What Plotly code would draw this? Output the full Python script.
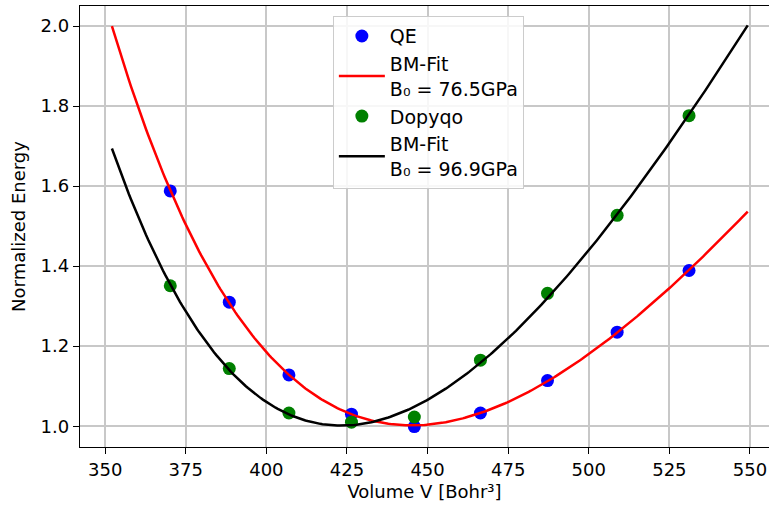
import numpy as np
import plotly.graph_objects as go

# Volumes (Bohr^3) and normalized energies for the two codes
volumes = [370.2, 388.5, 407.0, 426.4, 445.9, 466.4, 487.2, 508.8, 531.1]
energy_qe = [1.588, 1.310, 1.128, 1.030, 0.999, 1.033, 1.114, 1.235, 1.389]
energy_dopyqo = [1.351, 1.144, 1.033, 1.010, 1.023, 1.165, 1.332, 1.527, 1.776]

fit_labels = ["BM-Fit<br>B₀ = 76.5GPa", "BM-Fit<br>B₀ = 96.9GPa"]
fit_vmin, fit_vmax = 352.1, 549.3


def birch_murnaghan_fit(v, e, v_eval):
    """Third-order Birch-Murnaghan fit: E is cubic in V^(-2/3)."""
    x = np.asarray(v, dtype=float) ** (-2.0 / 3.0)
    coeffs = np.polyfit(x, np.asarray(e, dtype=float), 3)
    return np.polyval(coeffs, np.asarray(v_eval) ** (-2.0 / 3.0))


v_fit = np.linspace(fit_vmin, fit_vmax, 300)
fit_qe = birch_murnaghan_fit(volumes, energy_qe, v_fit)
fit_dopyqo = birch_murnaghan_fit(volumes, energy_dopyqo, v_fit)

font = "DejaVu Sans"

fig = go.Figure()
fig.add_trace(go.Scatter(x=volumes, y=energy_qe, mode="markers", name="QE",
                         marker=dict(color="blue", size=13)))
fig.add_trace(go.Scatter(x=v_fit, y=fit_qe, mode="lines", name=fit_labels[0],
                         line=dict(color="red", width=2.5)))
fig.add_trace(go.Scatter(x=volumes, y=energy_dopyqo, mode="markers", name="Dopyqo",
                         marker=dict(color="green", size=13)))
fig.add_trace(go.Scatter(x=v_fit, y=fit_dopyqo, mode="lines", name=fit_labels[1],
                         line=dict(color="black", width=2.5)))

axis_common = dict(
    showline=True, linecolor="black", linewidth=1.3,
    ticks="outside", ticklen=6, tickwidth=1.3, tickcolor="black",
    showgrid=True, gridcolor="#c8c8c8", gridwidth=1.5,
    zeroline=False,
    tickfont=dict(family=font, size=18, color="black"),
)

fig.update_layout(
    width=769, height=506,
    margin=dict(l=80, r=0, t=6, b=59),
    paper_bgcolor="white", plot_bgcolor="white",
    font=dict(family=font, size=18, color="black"),
    xaxis=dict(range=[342.2, 555.9], tickmode="linear", tick0=350, dtick=25,
               mirror=True,
               title=dict(text="Volume V [Bohr³]", font=dict(family=font, size=18),
                          standoff=6),
               **axis_common),
    yaxis=dict(range=[0.948, 2.05], tickmode="linear", tick0=1.0, dtick=0.2,
               tickformat=".1f",
               title=dict(text="Normalized Energy", font=dict(family=font, size=18),
                          standoff=10),
               **axis_common),
    legend=dict(x=0.367, y=0.977, xanchor="left", yanchor="top",
                bgcolor="rgba(255,255,255,0.85)", bordercolor="#cccccc",
                borderwidth=1, font=dict(family=font, size=19),
                itemwidth=46),
    showlegend=True,
)

fig.write_html("out.html")
